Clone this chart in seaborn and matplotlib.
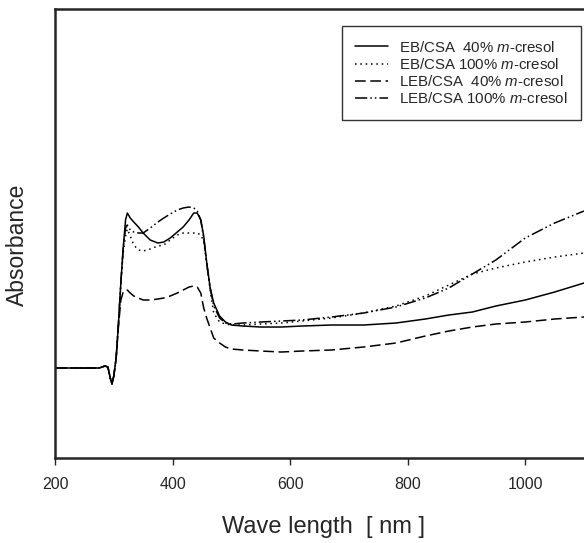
import matplotlib
matplotlib.use("Agg")
import matplotlib.pyplot as plt
import seaborn as sns

# wavelength grid (nm) shared by all four spectra
wavelength = [200, 240, 275, 285, 290, 294, 297, 300, 304, 308, 312, 316, 320, 323,
              328, 334, 342, 350, 362, 375, 385, 396, 408, 418, 428, 436, 442, 448,
              453, 458, 464, 470, 480, 490, 500, 520, 550, 585, 620, 670, 725, 780,
              830, 870, 910, 950, 1000, 1050, 1100]

eb_40 = [0.90, 0.90, 0.90, 0.92, 0.91, 0.80, 0.74, 0.82, 1.00, 1.35, 1.75, 2.10, 2.38, 2.45,
         2.40, 2.36, 2.31, 2.25, 2.18, 2.15, 2.16, 2.20, 2.26, 2.31, 2.38, 2.45, 2.45, 2.38,
         2.22, 1.96, 1.70, 1.55, 1.42, 1.36, 1.33, 1.32, 1.31, 1.31, 1.32, 1.33, 1.33, 1.35,
         1.39, 1.43, 1.46, 1.52, 1.58, 1.66, 1.75]

eb_100 = [0.90, 0.90, 0.90, 0.92, 0.91, 0.80, 0.74, 0.82, 1.00, 1.35, 1.75, 2.05, 2.22, 2.29,
          2.22, 2.13, 2.08, 2.07, 2.09, 2.12, 2.13, 2.18, 2.23, 2.25, 2.25, 2.25, 2.25, 2.23,
          2.17, 1.95, 1.68, 1.45, 1.36, 1.34, 1.33, 1.33, 1.34, 1.35, 1.37, 1.40, 1.45, 1.52,
          1.62, 1.73, 1.84, 1.90, 1.96, 2.01, 2.05]

leb_40 = [0.90, 0.90, 0.90, 0.92, 0.91, 0.80, 0.74, 0.82, 1.00, 1.32, 1.58, 1.66, 1.68, 1.68,
          1.65, 1.62, 1.60, 1.58, 1.58, 1.59, 1.60, 1.62, 1.65, 1.68, 1.71, 1.72, 1.71, 1.65,
          1.50, 1.40, 1.30, 1.20, 1.15, 1.11, 1.09, 1.08, 1.07, 1.06, 1.07, 1.08, 1.11, 1.15,
          1.22, 1.27, 1.31, 1.34, 1.36, 1.39, 1.41]

leb_100 = [0.90, 0.90, 0.90, 0.92, 0.91, 0.80, 0.74, 0.82, 1.00, 1.35, 1.75, 2.10, 2.30, 2.33,
           2.28, 2.26, 2.25, 2.25, 2.30, 2.36, 2.40, 2.44, 2.48, 2.50, 2.51, 2.50, 2.47, 2.38,
           2.20, 1.95, 1.70, 1.52, 1.40, 1.35, 1.34, 1.35, 1.36, 1.37, 1.38, 1.41, 1.45, 1.51,
           1.60, 1.70, 1.84, 1.98, 2.20, 2.35, 2.47]

labels = [r"EB/CSA  40% $\mathit{m}$-cresol",
          r"EB/CSA 100% $\mathit{m}$-cresol",
          r"LEB/CSA  40% $\mathit{m}$-cresol",
          r"LEB/CSA 100% $\mathit{m}$-cresol"]

sns.set_style("ticks")
plt.rcParams['font.family'] = ['Liberation Sans', 'DejaVu Sans']
plt.rcParams['mathtext.fontset'] = 'custom'
plt.rcParams['mathtext.rm'] = 'Liberation Sans'
plt.rcParams['mathtext.it'] = 'Liberation Sans:italic'

fig = plt.figure(figsize=(5.84, 5.43), dpi=100)
ax = fig.add_axes([0.0942, 0.1565, 0.9058, 0.8269])

styles = ['-', (0, (1, 2.5)), (0, (7, 3)), (0, (8, 2, 1, 2, 1, 2))]
for vals, lab, ls in zip([eb_40, eb_100, leb_40, leb_100], labels, styles):
    sns.lineplot(x=wavelength, y=vals, ax=ax, color='black', linewidth=1.1,
                 linestyle=ls, label=lab)

ax.set_xlim(200, 1100)
ax.set_ylim(0, 4.49)
ax.set_xticks([200, 400, 600, 800, 1000])
ax.set_yticks([])
ax.tick_params(axis='x', direction='out', length=5, width=1, labelsize=11.5, pad=9)
for side in ['left', 'top', 'bottom']:
    ax.spines[side].set_linewidth(1.8)
ax.spines['right'].set_visible(False)

ax.set_xlabel("Wave length  [ nm ]", fontsize=17)
ax.set_ylabel("Absorbance", fontsize=16.5)
ax.xaxis.set_label_coords(0.507, -0.13)
ax.yaxis.set_label_coords(-0.049, 0.474)

leg = ax.legend(loc='upper right', bbox_to_anchor=(0.994, 0.962), borderaxespad=0,
                fontsize=10.8, frameon=True, fancybox=False, edgecolor='black',
                handlelength=2.2, handletextpad=0.7, labelspacing=0.15, borderpad=0.9)
leg.get_frame().set_linewidth(1.0)

fig.savefig("out.png", dpi=100)
